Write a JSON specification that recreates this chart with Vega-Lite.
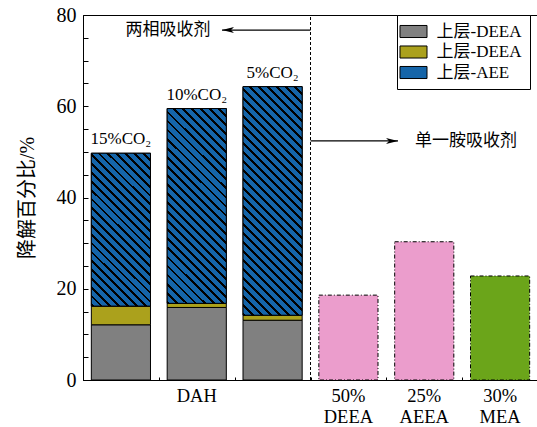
{
  "$schema": "https://vega.github.io/schema/vega-lite/v6.json",
  "width": 455,
  "height": 365,
  "autosize": {"type": "none"},
  "padding": {"left": 83, "top": 15, "right": 0, "bottom": 47},
  "background": "white",
  "config": {
    "view": {"stroke": "black", "strokeWidth": 1},
    "axis": {
      "grid": false,
      "domainColor": "black",
      "tickColor": "black",
      "labelColor": "black",
      "titleColor": "black",
      "labelFont": "Liberation Serif",
      "titleFont": "Liberation Serif, Noto Sans CJK SC",
      "titleFontWeight": "normal"
    },
    "text": {"font": "Liberation Serif, Noto Sans CJK SC", "color": "black"}
  },
  "resolve": {"scale": {"x": "independent"}},
  "encoding": {
    "y": {
      "field": "y1",
      "type": "quantitative",
      "scale": {"domain": [0, 80], "nice": false, "zero": true},
      "axis": {
        "orient": "left",
        "title": "降解百分比/%",
        "titleFontSize": 20,
        "titlePadding": 19,
        "values": [0, 5, 10, 15, 20, 25, 30, 35, 40, 45, 50, 55, 60, 65, 70, 75, 80],
        "labelExpr": "datum.value % 20 == 0 ? datum.label : ''",
        "labelFontSize": 20,
        "labelPadding": 12,
        "tickSize": -5
      }
    }
  },
  "layer": [
    {
      "data": {
        "values": [
          {"bar": "DAH-15", "layer": "DEEA-1", "v": 12.1, "rank": 1},
          {"bar": "DAH-15", "layer": "DEEA-2", "v": 4.1, "rank": 2},
          {"bar": "DAH-15", "layer": "AEE", "v": 33.5, "rank": 3, "co2": "15%CO₂"},
          {"bar": "DAH-10", "layer": "DEEA-1", "v": 15.9, "rank": 1},
          {"bar": "DAH-10", "layer": "DEEA-2", "v": 0.9, "rank": 2},
          {"bar": "DAH-10", "layer": "AEE", "v": 42.7, "rank": 3, "co2": "10%CO₂"},
          {"bar": "DAH-5", "layer": "DEEA-1", "v": 13.1, "rank": 1},
          {"bar": "DAH-5", "layer": "DEEA-2", "v": 1.1, "rank": 2},
          {"bar": "DAH-5", "layer": "AEE", "v": 50.1, "rank": 3, "co2": "5%CO₂"},
          {"bar": "50% DEEA", "layer": "DEEA", "v": 18.6, "rank": 1},
          {"bar": "25% AEEA", "layer": "AEEA", "v": 30.3, "rank": 1},
          {"bar": "30% MEA", "layer": "MEA", "v": 22.8, "rank": 1}
        ]
      },
      "transform": [
        {"stack": "v", "groupby": ["bar"], "sort": [{"field": "rank", "order": "ascending"}], "as": ["y0", "y1"]}
      ],
      "encoding": {
        "x": {
          "field": "bar",
          "type": "nominal",
          "sort": null,
          "scale": {
            "domain": ["DAH-15", "DAH-10", "DAH-5", "50% DEEA", "25% AEEA", "30% MEA"],
            "paddingInner": 0.22,
            "paddingOuter": 0.11
          },
          "axis": {
            "orient": "bottom",
            "title": null,
            "labelAngle": 0,
            "labelExpr": "datum.value == 'DAH-10' ? 'DAH' : (indexof(datum.value, 'DAH') == 0 ? '' : split(datum.value, ' '))",
            "labelFontSize": 18.5,
            "labelLineHeight": 21,
            "labelBaseline": "top",
            "labelPadding": 11,
            "tickSize": -5
          }
        }
      },
      "layer": [
        {
          "transform": [{"filter": "indexof(datum.bar, 'DAH') == 0"}],
          "mark": {"type": "bar", "stroke": "black", "strokeWidth": 1},
          "encoding": {
            "y2": {"field": "y0"},
            "fill": {
              "field": "layer",
              "type": "nominal",
              "scale": {
                "domain": ["DEEA-1", "DEEA-2", "AEE", "DEEA", "AEEA", "MEA"],
                "range": ["#808080", "#aba11c", "#1565a9", "#eb9dcc", "#eb9dcc", "#6ba51a"]
              },
              "legend": {
                "values": ["DEEA-1", "DEEA-2", "AEE"],
                "title": null,
                "orient": "none",
                "legendX": 314,
                "legendY": 0,
                "padding": 8,
                "strokeColor": "black",
                "fillColor": "white",
                "cornerRadius": 0,
                "symbolType": "M-1.93,-0.86L1.93,-0.86L1.93,0.86L-1.93,0.86Z",
                "symbolSize": 196,
                "symbolStrokeColor": "black",
                "symbolStrokeWidth": 1,
                "symbolOpacity": 1,
                "labelFont": "Liberation Serif, Noto Sans CJK SC",
                "labelFontSize": 17,
                "labelColor": "black",
                "labelOffset": 14.5,
                "rowPadding": 2.5,
                "labelExpr": "datum.value == 'AEE' ? '上层-AEE  ' : '上层-DEEA  '"
              }
            }
          }
        },
        {
          "transform": [{"filter": "datum.bar == 'DAH-15' && datum.layer == 'AEE'"}],
          "mark": {
            "type": "bar",
            "stroke": "black",
            "strokeWidth": 1,
            "fill": {
              "gradient": "linear", "x1": 0, "y1": 1, "x2": 0.4652, "y2": -0.2063,
              "stops": [
                {"offset": 0, "color": "#000"}, {"offset": 0.013, "color": "#000"}, {"offset": 0.013, "color": "#1565a9"}, {"offset": 0.0417, "color": "#1565a9"},
                {"offset": 0.0417, "color": "#000"}, {"offset": 0.0547, "color": "#000"}, {"offset": 0.0547, "color": "#1565a9"}, {"offset": 0.0833, "color": "#1565a9"},
                {"offset": 0.0833, "color": "#000"}, {"offset": 0.0963, "color": "#000"}, {"offset": 0.0963, "color": "#1565a9"}, {"offset": 0.125, "color": "#1565a9"},
                {"offset": 0.125, "color": "#000"}, {"offset": 0.138, "color": "#000"}, {"offset": 0.138, "color": "#1565a9"}, {"offset": 0.1667, "color": "#1565a9"},
                {"offset": 0.1667, "color": "#000"}, {"offset": 0.1797, "color": "#000"}, {"offset": 0.1797, "color": "#1565a9"}, {"offset": 0.2083, "color": "#1565a9"},
                {"offset": 0.2083, "color": "#000"}, {"offset": 0.2213, "color": "#000"}, {"offset": 0.2213, "color": "#1565a9"}, {"offset": 0.25, "color": "#1565a9"},
                {"offset": 0.25, "color": "#000"}, {"offset": 0.263, "color": "#000"}, {"offset": 0.263, "color": "#1565a9"}, {"offset": 0.2917, "color": "#1565a9"},
                {"offset": 0.2917, "color": "#000"}, {"offset": 0.3047, "color": "#000"}, {"offset": 0.3047, "color": "#1565a9"}, {"offset": 0.3333, "color": "#1565a9"},
                {"offset": 0.3333, "color": "#000"}, {"offset": 0.3463, "color": "#000"}, {"offset": 0.3463, "color": "#1565a9"}, {"offset": 0.375, "color": "#1565a9"},
                {"offset": 0.375, "color": "#000"}, {"offset": 0.388, "color": "#000"}, {"offset": 0.388, "color": "#1565a9"}, {"offset": 0.4167, "color": "#1565a9"},
                {"offset": 0.4167, "color": "#000"}, {"offset": 0.4297, "color": "#000"}, {"offset": 0.4297, "color": "#1565a9"}, {"offset": 0.4583, "color": "#1565a9"},
                {"offset": 0.4583, "color": "#000"}, {"offset": 0.4713, "color": "#000"}, {"offset": 0.4713, "color": "#1565a9"}, {"offset": 0.5, "color": "#1565a9"},
                {"offset": 0.5, "color": "#000"}, {"offset": 0.513, "color": "#000"}, {"offset": 0.513, "color": "#1565a9"}, {"offset": 0.5417, "color": "#1565a9"},
                {"offset": 0.5417, "color": "#000"}, {"offset": 0.5547, "color": "#000"}, {"offset": 0.5547, "color": "#1565a9"}, {"offset": 0.5833, "color": "#1565a9"},
                {"offset": 0.5833, "color": "#000"}, {"offset": 0.5963, "color": "#000"}, {"offset": 0.5963, "color": "#1565a9"}, {"offset": 0.625, "color": "#1565a9"},
                {"offset": 0.625, "color": "#000"}, {"offset": 0.638, "color": "#000"}, {"offset": 0.638, "color": "#1565a9"}, {"offset": 0.6667, "color": "#1565a9"},
                {"offset": 0.6667, "color": "#000"}, {"offset": 0.6797, "color": "#000"}, {"offset": 0.6797, "color": "#1565a9"}, {"offset": 0.7083, "color": "#1565a9"},
                {"offset": 0.7083, "color": "#000"}, {"offset": 0.7213, "color": "#000"}, {"offset": 0.7213, "color": "#1565a9"}, {"offset": 0.75, "color": "#1565a9"},
                {"offset": 0.75, "color": "#000"}, {"offset": 0.763, "color": "#000"}, {"offset": 0.763, "color": "#1565a9"}, {"offset": 0.7917, "color": "#1565a9"},
                {"offset": 0.7917, "color": "#000"}, {"offset": 0.8047, "color": "#000"}, {"offset": 0.8047, "color": "#1565a9"}, {"offset": 0.8333, "color": "#1565a9"},
                {"offset": 0.8333, "color": "#000"}, {"offset": 0.8463, "color": "#000"}, {"offset": 0.8463, "color": "#1565a9"}, {"offset": 0.875, "color": "#1565a9"},
                {"offset": 0.875, "color": "#000"}, {"offset": 0.888, "color": "#000"}, {"offset": 0.888, "color": "#1565a9"}, {"offset": 0.9167, "color": "#1565a9"},
                {"offset": 0.9167, "color": "#000"}, {"offset": 0.9297, "color": "#000"}, {"offset": 0.9297, "color": "#1565a9"}, {"offset": 0.9583, "color": "#1565a9"},
                {"offset": 0.9583, "color": "#000"}, {"offset": 0.9713, "color": "#000"}, {"offset": 0.9713, "color": "#1565a9"}, {"offset": 1, "color": "#1565a9"}
              ]
            }
          },
          "encoding": {"y2": {"field": "y0"}}
        },
        {
          "transform": [{"filter": "datum.bar == 'DAH-10' && datum.layer == 'AEE'"}],
          "mark": {
            "type": "bar",
            "stroke": "black",
            "strokeWidth": 1,
            "fill": {
              "gradient": "linear", "x1": 0, "y1": 1, "x2": 0.3611, "y2": -0.1933,
              "stops": [
                {"offset": 0, "color": "#000"}, {"offset": 0.011, "color": "#000"}, {"offset": 0.011, "color": "#1565a9"}, {"offset": 0.0357, "color": "#1565a9"},
                {"offset": 0.0357, "color": "#000"}, {"offset": 0.0467, "color": "#000"}, {"offset": 0.0467, "color": "#1565a9"}, {"offset": 0.0714, "color": "#1565a9"},
                {"offset": 0.0714, "color": "#000"}, {"offset": 0.0824, "color": "#000"}, {"offset": 0.0824, "color": "#1565a9"}, {"offset": 0.1071, "color": "#1565a9"},
                {"offset": 0.1071, "color": "#000"}, {"offset": 0.1181, "color": "#000"}, {"offset": 0.1181, "color": "#1565a9"}, {"offset": 0.1429, "color": "#1565a9"},
                {"offset": 0.1429, "color": "#000"}, {"offset": 0.1539, "color": "#000"}, {"offset": 0.1539, "color": "#1565a9"}, {"offset": 0.1786, "color": "#1565a9"},
                {"offset": 0.1786, "color": "#000"}, {"offset": 0.1896, "color": "#000"}, {"offset": 0.1896, "color": "#1565a9"}, {"offset": 0.2143, "color": "#1565a9"},
                {"offset": 0.2143, "color": "#000"}, {"offset": 0.2253, "color": "#000"}, {"offset": 0.2253, "color": "#1565a9"}, {"offset": 0.25, "color": "#1565a9"},
                {"offset": 0.25, "color": "#000"}, {"offset": 0.261, "color": "#000"}, {"offset": 0.261, "color": "#1565a9"}, {"offset": 0.2857, "color": "#1565a9"},
                {"offset": 0.2857, "color": "#000"}, {"offset": 0.2967, "color": "#000"}, {"offset": 0.2967, "color": "#1565a9"}, {"offset": 0.3214, "color": "#1565a9"},
                {"offset": 0.3214, "color": "#000"}, {"offset": 0.3324, "color": "#000"}, {"offset": 0.3324, "color": "#1565a9"}, {"offset": 0.3571, "color": "#1565a9"},
                {"offset": 0.3571, "color": "#000"}, {"offset": 0.3681, "color": "#000"}, {"offset": 0.3681, "color": "#1565a9"}, {"offset": 0.3929, "color": "#1565a9"},
                {"offset": 0.3929, "color": "#000"}, {"offset": 0.4039, "color": "#000"}, {"offset": 0.4039, "color": "#1565a9"}, {"offset": 0.4286, "color": "#1565a9"},
                {"offset": 0.4286, "color": "#000"}, {"offset": 0.4396, "color": "#000"}, {"offset": 0.4396, "color": "#1565a9"}, {"offset": 0.4643, "color": "#1565a9"},
                {"offset": 0.4643, "color": "#000"}, {"offset": 0.4753, "color": "#000"}, {"offset": 0.4753, "color": "#1565a9"}, {"offset": 0.5, "color": "#1565a9"},
                {"offset": 0.5, "color": "#000"}, {"offset": 0.511, "color": "#000"}, {"offset": 0.511, "color": "#1565a9"}, {"offset": 0.5357, "color": "#1565a9"},
                {"offset": 0.5357, "color": "#000"}, {"offset": 0.5467, "color": "#000"}, {"offset": 0.5467, "color": "#1565a9"}, {"offset": 0.5714, "color": "#1565a9"},
                {"offset": 0.5714, "color": "#000"}, {"offset": 0.5824, "color": "#000"}, {"offset": 0.5824, "color": "#1565a9"}, {"offset": 0.6071, "color": "#1565a9"},
                {"offset": 0.6071, "color": "#000"}, {"offset": 0.6181, "color": "#000"}, {"offset": 0.6181, "color": "#1565a9"}, {"offset": 0.6429, "color": "#1565a9"},
                {"offset": 0.6429, "color": "#000"}, {"offset": 0.6539, "color": "#000"}, {"offset": 0.6539, "color": "#1565a9"}, {"offset": 0.6786, "color": "#1565a9"},
                {"offset": 0.6786, "color": "#000"}, {"offset": 0.6896, "color": "#000"}, {"offset": 0.6896, "color": "#1565a9"}, {"offset": 0.7143, "color": "#1565a9"},
                {"offset": 0.7143, "color": "#000"}, {"offset": 0.7253, "color": "#000"}, {"offset": 0.7253, "color": "#1565a9"}, {"offset": 0.75, "color": "#1565a9"},
                {"offset": 0.75, "color": "#000"}, {"offset": 0.761, "color": "#000"}, {"offset": 0.761, "color": "#1565a9"}, {"offset": 0.7857, "color": "#1565a9"},
                {"offset": 0.7857, "color": "#000"}, {"offset": 0.7967, "color": "#000"}, {"offset": 0.7967, "color": "#1565a9"}, {"offset": 0.8214, "color": "#1565a9"},
                {"offset": 0.8214, "color": "#000"}, {"offset": 0.8324, "color": "#000"}, {"offset": 0.8324, "color": "#1565a9"}, {"offset": 0.8571, "color": "#1565a9"},
                {"offset": 0.8571, "color": "#000"}, {"offset": 0.8681, "color": "#000"}, {"offset": 0.8681, "color": "#1565a9"}, {"offset": 0.8929, "color": "#1565a9"},
                {"offset": 0.8929, "color": "#000"}, {"offset": 0.9039, "color": "#000"}, {"offset": 0.9039, "color": "#1565a9"}, {"offset": 0.9286, "color": "#1565a9"},
                {"offset": 0.9286, "color": "#000"}, {"offset": 0.9396, "color": "#000"}, {"offset": 0.9396, "color": "#1565a9"}, {"offset": 0.9643, "color": "#1565a9"},
                {"offset": 0.9643, "color": "#000"}, {"offset": 0.9753, "color": "#000"}, {"offset": 0.9753, "color": "#1565a9"}, {"offset": 1, "color": "#1565a9"}
              ]
            }
          },
          "encoding": {"y2": {"field": "y0"}}
        },
        {
          "transform": [{"filter": "datum.bar == 'DAH-5' && datum.layer == 'AEE'"}],
          "mark": {
            "type": "bar",
            "stroke": "black",
            "strokeWidth": 1,
            "fill": {
              "gradient": "linear", "x1": 0, "y1": 1, "x2": 0.3044, "y2": -0.1795,
              "stops": [
                {"offset": 0, "color": "#000"}, {"offset": 0.0097, "color": "#000"}, {"offset": 0.0097, "color": "#1565a9"}, {"offset": 0.03125, "color": "#1565a9"},
                {"offset": 0.03125, "color": "#000"}, {"offset": 0.04095, "color": "#000"}, {"offset": 0.04095, "color": "#1565a9"}, {"offset": 0.0625, "color": "#1565a9"},
                {"offset": 0.0625, "color": "#000"}, {"offset": 0.0722, "color": "#000"}, {"offset": 0.0722, "color": "#1565a9"}, {"offset": 0.09375, "color": "#1565a9"},
                {"offset": 0.09375, "color": "#000"}, {"offset": 0.10345, "color": "#000"}, {"offset": 0.10345, "color": "#1565a9"}, {"offset": 0.125, "color": "#1565a9"},
                {"offset": 0.125, "color": "#000"}, {"offset": 0.1347, "color": "#000"}, {"offset": 0.1347, "color": "#1565a9"}, {"offset": 0.15625, "color": "#1565a9"},
                {"offset": 0.15625, "color": "#000"}, {"offset": 0.16595, "color": "#000"}, {"offset": 0.16595, "color": "#1565a9"}, {"offset": 0.1875, "color": "#1565a9"},
                {"offset": 0.1875, "color": "#000"}, {"offset": 0.1972, "color": "#000"}, {"offset": 0.1972, "color": "#1565a9"}, {"offset": 0.21875, "color": "#1565a9"},
                {"offset": 0.21875, "color": "#000"}, {"offset": 0.22845, "color": "#000"}, {"offset": 0.22845, "color": "#1565a9"}, {"offset": 0.25, "color": "#1565a9"},
                {"offset": 0.25, "color": "#000"}, {"offset": 0.2597, "color": "#000"}, {"offset": 0.2597, "color": "#1565a9"}, {"offset": 0.28125, "color": "#1565a9"},
                {"offset": 0.28125, "color": "#000"}, {"offset": 0.29095, "color": "#000"}, {"offset": 0.29095, "color": "#1565a9"}, {"offset": 0.3125, "color": "#1565a9"},
                {"offset": 0.3125, "color": "#000"}, {"offset": 0.3222, "color": "#000"}, {"offset": 0.3222, "color": "#1565a9"}, {"offset": 0.34375, "color": "#1565a9"},
                {"offset": 0.34375, "color": "#000"}, {"offset": 0.35345, "color": "#000"}, {"offset": 0.35345, "color": "#1565a9"}, {"offset": 0.375, "color": "#1565a9"},
                {"offset": 0.375, "color": "#000"}, {"offset": 0.3847, "color": "#000"}, {"offset": 0.3847, "color": "#1565a9"}, {"offset": 0.40625, "color": "#1565a9"},
                {"offset": 0.40625, "color": "#000"}, {"offset": 0.41595, "color": "#000"}, {"offset": 0.41595, "color": "#1565a9"}, {"offset": 0.4375, "color": "#1565a9"},
                {"offset": 0.4375, "color": "#000"}, {"offset": 0.4472, "color": "#000"}, {"offset": 0.4472, "color": "#1565a9"}, {"offset": 0.46875, "color": "#1565a9"},
                {"offset": 0.46875, "color": "#000"}, {"offset": 0.47845, "color": "#000"}, {"offset": 0.47845, "color": "#1565a9"}, {"offset": 0.5, "color": "#1565a9"},
                {"offset": 0.5, "color": "#000"}, {"offset": 0.5097, "color": "#000"}, {"offset": 0.5097, "color": "#1565a9"}, {"offset": 0.53125, "color": "#1565a9"},
                {"offset": 0.53125, "color": "#000"}, {"offset": 0.54095, "color": "#000"}, {"offset": 0.54095, "color": "#1565a9"}, {"offset": 0.5625, "color": "#1565a9"},
                {"offset": 0.5625, "color": "#000"}, {"offset": 0.5722, "color": "#000"}, {"offset": 0.5722, "color": "#1565a9"}, {"offset": 0.59375, "color": "#1565a9"},
                {"offset": 0.59375, "color": "#000"}, {"offset": 0.60345, "color": "#000"}, {"offset": 0.60345, "color": "#1565a9"}, {"offset": 0.625, "color": "#1565a9"},
                {"offset": 0.625, "color": "#000"}, {"offset": 0.6347, "color": "#000"}, {"offset": 0.6347, "color": "#1565a9"}, {"offset": 0.65625, "color": "#1565a9"},
                {"offset": 0.65625, "color": "#000"}, {"offset": 0.66595, "color": "#000"}, {"offset": 0.66595, "color": "#1565a9"}, {"offset": 0.6875, "color": "#1565a9"},
                {"offset": 0.6875, "color": "#000"}, {"offset": 0.6972, "color": "#000"}, {"offset": 0.6972, "color": "#1565a9"}, {"offset": 0.71875, "color": "#1565a9"},
                {"offset": 0.71875, "color": "#000"}, {"offset": 0.72845, "color": "#000"}, {"offset": 0.72845, "color": "#1565a9"}, {"offset": 0.75, "color": "#1565a9"},
                {"offset": 0.75, "color": "#000"}, {"offset": 0.7597, "color": "#000"}, {"offset": 0.7597, "color": "#1565a9"}, {"offset": 0.78125, "color": "#1565a9"},
                {"offset": 0.78125, "color": "#000"}, {"offset": 0.79095, "color": "#000"}, {"offset": 0.79095, "color": "#1565a9"}, {"offset": 0.8125, "color": "#1565a9"},
                {"offset": 0.8125, "color": "#000"}, {"offset": 0.8222, "color": "#000"}, {"offset": 0.8222, "color": "#1565a9"}, {"offset": 0.84375, "color": "#1565a9"},
                {"offset": 0.84375, "color": "#000"}, {"offset": 0.85345, "color": "#000"}, {"offset": 0.85345, "color": "#1565a9"}, {"offset": 0.875, "color": "#1565a9"},
                {"offset": 0.875, "color": "#000"}, {"offset": 0.8847, "color": "#000"}, {"offset": 0.8847, "color": "#1565a9"}, {"offset": 0.90625, "color": "#1565a9"},
                {"offset": 0.90625, "color": "#000"}, {"offset": 0.91595, "color": "#000"}, {"offset": 0.91595, "color": "#1565a9"}, {"offset": 0.9375, "color": "#1565a9"},
                {"offset": 0.9375, "color": "#000"}, {"offset": 0.9472, "color": "#000"}, {"offset": 0.9472, "color": "#1565a9"}, {"offset": 0.96875, "color": "#1565a9"},
                {"offset": 0.96875, "color": "#000"}, {"offset": 0.97845, "color": "#000"}, {"offset": 0.97845, "color": "#1565a9"}, {"offset": 1, "color": "#1565a9"}
              ]
            }
          },
          "encoding": {"y2": {"field": "y0"}}
        },
        {
          "transform": [{"filter": "indexof(datum.bar, 'DAH') != 0"}],
          "mark": {"type": "bar", "stroke": "black", "strokeWidth": 1, "strokeDash": [4, 2, 1, 2]},
          "encoding": {
            "y2": {"field": "y0"},
            "fill": {"field": "layer", "type": "nominal"}
          }
        },
        {
          "transform": [{"filter": "datum.layer == 'AEE'"}],
          "mark": {"type": "text", "baseline": "alphabetic", "dy": -9, "fontSize": 17},
          "encoding": {
            "text": {"field": "co2"}
          }
        }
      ]
    },
    {
      "encoding": {
        "x": {
          "field": "xq",
          "type": "quantitative",
          "scale": {"domain": [0, 6], "nice": false, "zero": false},
          "axis": {
            "orient": "bottom",
            "title": null,
            "values": [0, 1, 2, 3, 4, 5, 6],
            "labels": false,
            "domain": false,
            "tickSize": -3,
            "grid": false
          }
        }
      },
      "layer": [
        {
          "data": {"values": [{"xq": 3, "y1": 0, "y0": 80}]},
          "mark": {"type": "rule", "stroke": "black", "strokeWidth": 1, "strokeDash": [3, 2]},
          "encoding": {
            "y2": {"field": "y0"}
          }
        },
        {
          "data": {
            "values": [
              {"xq": 3, "to": 1.833, "y1": 76.7, "dir": "left"},
              {"xq": 3, "to": 4.154, "y1": 52.4, "dir": "right"}
            ]
          },
          "layer": [
            {
              "mark": {"type": "rule", "stroke": "black", "strokeWidth": 1.2},
              "encoding": {
                "x2": {"field": "to"}
              }
            },
            {
              "mark": {"type": "point", "filled": true, "size": 144, "color": "black", "opacity": 1, "strokeWidth": 0},
              "encoding": {
                "x": {"field": "to", "type": "quantitative"},
                "shape": {
                  "field": "dir",
                  "type": "nominal",
                  "scale": {
                    "domain": ["left", "right"],
                    "range": ["M0,0L2,-0.5L1.5,0L2,0.5Z", "M0,0L-2,-0.5L-1.5,0L-2,0.5Z"]
                  },
                  "legend": null
                }
              }
            }
          ]
        },
        {
          "data": {
            "values": [
              {"xq": 1.121, "y1": 76.7, "label": "两相吸收剂"},
              {"xq": 5.05, "y1": 52.4, "label": "单一胺吸收剂"}
            ]
          },
          "mark": {"type": "text", "fontSize": 17, "baseline": "middle"},
          "encoding": {
            "text": {"field": "label"}
          }
        }
      ]
    }
  ]
}
